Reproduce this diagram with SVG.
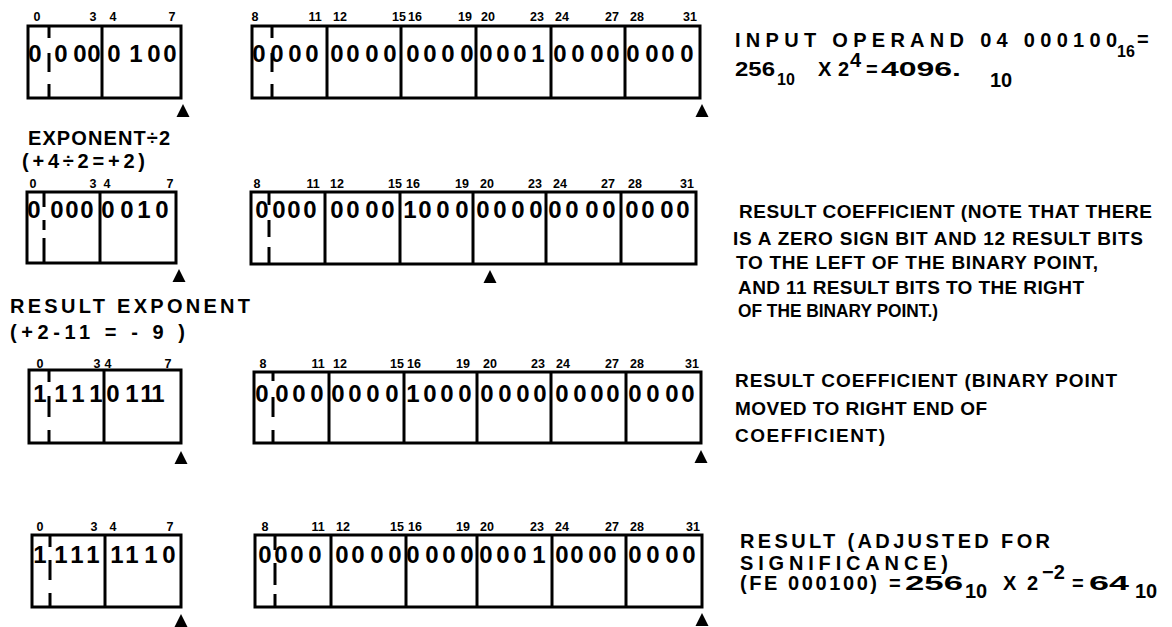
<svg xmlns="http://www.w3.org/2000/svg" width="1172" height="627" viewBox="0 0 1172 627">
<style>
.box{fill:none;stroke:#000;stroke-width:3}
.div{stroke:#000;stroke-width:3}
.bp{stroke:#000;stroke-width:3;fill:none}
.bit{font-family:"Liberation Sans",Arial,sans-serif;font-weight:bold;font-size:24px;text-anchor:middle;fill:#000}
.bn{font-family:"Liberation Sans",Arial,sans-serif;font-weight:bold;font-size:12.5px;text-anchor:middle;fill:#000}
.lbl{font-family:"Liberation Sans",Arial,sans-serif;font-weight:bold;font-size:20px;fill:#000}
.note{font-family:"Liberation Sans",Arial,sans-serif;font-weight:bold;font-size:19px;fill:#000}
.sub{font-size:16px}
</style>
<defs>
<path id="tri" d="M0,0 L6.5,13 L-6.5,13 Z" fill="#000"/>
</defs>
<rect width="1172" height="627" fill="#fff"/>

<!-- Row 1 -->
<g id="row1-exp">
<rect class="box" x="28" y="26" width="153" height="72"/>
<line class="div" x1="102" y1="26" x2="102" y2="98"/>
<path class="bp" d="M49 26V38M49 53V72M49 84V98"/>
<text class="bn" y="21"><tspan x="37">0</tspan><tspan x="93">3</tspan><tspan x="113">4</tspan><tspan x="172">7</tspan></text>
<text class="bit" x="35 61 80 94 114 136 154 170" y="62">00000100</text>
</g>
<g id="row1-coef">
<rect class="box" x="252" y="26" width="448" height="72"/>
<path class="div" d="M327 26V98M401 26V98M476 26V98M551 26V98M625 26V98"/>
<path class="bp" d="M272 26V38M272 53V72M272 84V98"/>
<text class="bn" y="21"><tspan x="255">8</tspan><tspan x="315">11</tspan><tspan x="340">12</tspan><tspan x="399">15</tspan><tspan x="415">16</tspan><tspan x="465">19</tspan><tspan x="488">20</tspan><tspan x="537">23</tspan><tspan x="562">24</tspan><tspan x="612">27</tspan><tspan x="637">28</tspan><tspan x="690">31</tspan></text>
<text class="bit" x="259 277 295 312 337 353 372 390 413 430 448 467 486 503 520 538 560 578 597 613 633 652 668 687" y="62">000000000000000100000000</text>
</g>
<g id="row1-text">
<text class="lbl" x="735" y="47" textLength="382">INPUT OPERAND 04 000100</text>
<text class="lbl sub" x="1117" y="57">16</text>
<text class="lbl" x="1137" y="46">=</text>
<text class="lbl" x="735" y="76" textLength="40" lengthAdjust="spacingAndGlyphs">256</text>
<text class="lbl sub" x="777" y="85">10</text>
<text class="lbl" x="818" y="76">X</text>
<text class="lbl" x="838" y="76">2</text>
<text class="lbl" x="850" y="67" font-size="15">4</text>
<text class="lbl" x="866" y="76">=</text>
<text class="lbl" x="881" y="76" textLength="80" lengthAdjust="spacingAndGlyphs">4096.</text>
<text class="lbl" x="990" y="87" font-size="17">10</text>
</g>

<!-- Row 2 -->
<g id="row2-label">
<text class="lbl" x="28" y="145" textLength="142">EXPONENT÷2</text>
<text class="lbl" x="22" y="168" textLength="123">(+4÷2=+2)</text>
</g>
<g id="row2-exp">
<rect class="box" x="27" y="192" width="149" height="71"/>
<line class="div" x1="100" y1="192" x2="100" y2="263"/>
<path class="bp" d="M44 192V207M44 220V230M44 238V263"/>
<text class="bn" y="188"><tspan x="33">0</tspan><tspan x="93">3</tspan><tspan x="107">4</tspan><tspan x="170">7</tspan></text>
<text class="bit" x="34 57 72 87 108 127 144 162" y="218">00000010</text>
</g>
<g id="row2-coef">
<rect class="box" x="251" y="192" width="445" height="72"/>
<path class="div" d="M325 192V264M400 192V264M473 192V264M546 192V264M621 192V264"/>
<path class="bp" d="M269 192V205M269 220V237M269 247V264"/>
<text class="bn" y="188"><tspan x="257">8</tspan><tspan x="313">11</tspan><tspan x="337">12</tspan><tspan x="395">15</tspan><tspan x="413">16</tspan><tspan x="462">19</tspan><tspan x="487">20</tspan><tspan x="535">23</tspan><tspan x="560">24</tspan><tspan x="608">27</tspan><tspan x="635">28</tspan><tspan x="687">31</tspan></text>
<text class="bit" x="262 279 294 310 337 353 372 388 410 425 443 462 483 500 518 536 555 572 592 609 632 648 667 683" y="218">000000001000000000000000</text>
</g>
<g id="row2-text">
<text class="note" x="739" y="218" textLength="413">RESULT COEFFICIENT (NOTE THAT THERE</text>
<text class="note" x="733" y="245" textLength="410">IS A ZERO SIGN BIT AND 12 RESULT BITS</text>
<text class="note" x="736" y="269" textLength="362">TO THE LEFT OF THE BINARY POINT,</text>
<text class="note" x="738" y="294" textLength="346">AND 11 RESULT BITS TO THE RIGHT</text>
<text class="note" x="738" y="317" textLength="200" lengthAdjust="spacingAndGlyphs">OF THE BINARY POINT.)</text>
</g>

<!-- Row 3 -->
<g id="row3-label">
<text class="lbl" x="10" y="313" textLength="240">RESULT EXPONENT</text>
<text class="lbl" x="10" y="339" textLength="175">(+2-11 = - 9 )</text>
</g>
<g id="row3-exp">
<rect class="box" x="29" y="370" width="152" height="73"/>
<line class="div" x1="104" y1="370" x2="104" y2="443"/>
<path class="bp" d="M49 370V382M49 396V417M49 430V443"/>
<text class="bn" y="368"><tspan x="40">0</tspan><tspan x="97">3</tspan><tspan x="108">4</tspan><tspan x="168">7</tspan></text>
<text class="bit" x="40 61 78 96 113 132 147 158" y="402">11110111</text>
</g>
<g id="row3-coef">
<rect class="box" x="254" y="372" width="447" height="71"/>
<path class="div" d="M329 372V443M404 372V443M477 372V443M551 372V443M626 372V443"/>
<path class="bp" d="M273 372V381M273 397V417M273 430V443"/>
<text class="bn" y="368"><tspan x="263">8</tspan><tspan x="318">11</tspan><tspan x="340">12</tspan><tspan x="397">15</tspan><tspan x="414">16</tspan><tspan x="463">19</tspan><tspan x="490">20</tspan><tspan x="538">23</tspan><tspan x="563">24</tspan><tspan x="612">27</tspan><tspan x="637">28</tspan><tspan x="692">31</tspan></text>
<text class="bit" x="262 282 299 317 338 355 373 392 413 430 447 465 487 505 523 540 562 580 597 613 635 653 672 688" y="402">000000001000000000000000</text>
</g>
<g id="row3-text">
<text class="note" x="735" y="387" textLength="382">RESULT COEFFICIENT (BINARY POINT</text>
<text class="note" x="735" y="415" textLength="252">MOVED TO RIGHT END OF</text>
<text class="note" x="735" y="442" textLength="150">COEFFICIENT)</text>
</g>

<!-- Row 4 -->
<g id="row4-exp">
<rect class="box" x="32" y="535" width="149" height="72"/>
<line class="div" x1="105" y1="535" x2="105" y2="607"/>
<path class="bp" d="M50 535V547M50 560V580M50 593V607"/>
<text class="bn" y="531"><tspan x="40">0</tspan><tspan x="94">3</tspan><tspan x="113">4</tspan><tspan x="170">7</tspan></text>
<text class="bit" x="40 61 77 93 117 132 151 169" y="563">11111110</text>
</g>
<g id="row4-coef">
<rect class="box" x="255" y="535" width="447" height="72"/>
<path class="div" d="M331 535V607M406 535V607M477 535V607M552 535V607M626 535V607"/>
<path class="bp" d="M275 535V550M275 563V585M275 594V607"/>
<text class="bn" y="531"><tspan x="265">8</tspan><tspan x="318">11</tspan><tspan x="343">12</tspan><tspan x="397">15</tspan><tspan x="415">16</tspan><tspan x="463">19</tspan><tspan x="487">20</tspan><tspan x="537">23</tspan><tspan x="562">24</tspan><tspan x="612">27</tspan><tspan x="637">28</tspan><tspan x="693">31</tspan></text>
<text class="bit" x="265 281 297 315 342 358 377 395 413 432 449 467 486 503 520 539 562 577 595 610 635 653 672 689" y="563">000000000000000100000000</text>
</g>
<g id="row4-text">
<text class="lbl" x="740" y="548" textLength="310">RESULT (ADJUSTED FOR</text>
<text class="lbl" x="740" y="570" textLength="208">SIGNIFICANCE)</text>
<text class="lbl" x="740" y="590" textLength="137">(FE 000100)</text>
<text class="lbl" x="889" y="590">=</text>
<text class="lbl" x="905" y="590" textLength="58" lengthAdjust="spacingAndGlyphs">256</text>
<text class="lbl" x="965" y="598" font-size="17">10</text>
<text class="lbl" x="1003" y="590">X</text>
<text class="lbl" x="1027" y="590">2</text>
<text class="lbl" x="1042" y="579" font-size="16">−2</text>
<text class="lbl" x="1072" y="590">=</text>
<text class="lbl" x="1089" y="590" textLength="40" lengthAdjust="spacingAndGlyphs">64</text>
<text class="lbl" x="1135" y="598" font-size="17">10</text>
</g>

<!-- binary point pointers -->
<g id="pointers">
<use href="#tri" x="183" y="104"/>
<use href="#tri" x="702" y="104"/>
<use href="#tri" x="179" y="269"/>
<use href="#tri" x="490" y="270"/>
<use href="#tri" x="181" y="451"/>
<use href="#tri" x="701" y="450"/>
<use href="#tri" x="181" y="614"/>
<use href="#tri" x="702" y="613"/>
</g>
</svg>
